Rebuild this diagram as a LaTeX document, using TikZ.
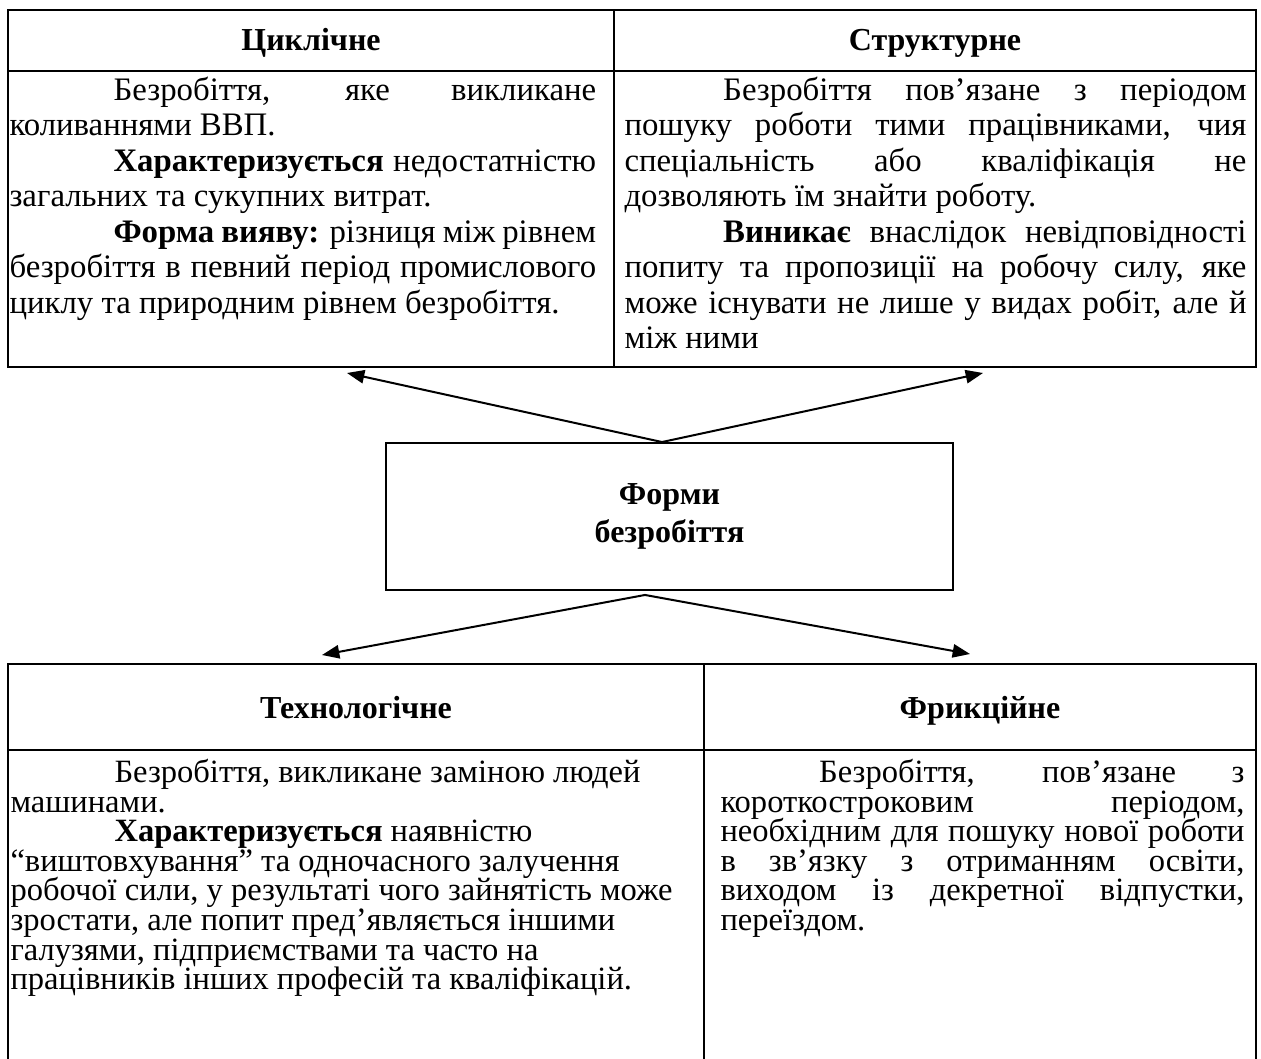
\documentclass[tikz,border=0pt]{standalone}
\usepackage{fontspec}
\setmainfont{Liberation Serif}
\usetikzlibrary{arrows.meta,calc}
\newlength{\indL}\setlength{\indL}{39pt}
\newlength{\indR}\setlength{\indR}{37pt}
\newcommand{\jl}[2]{\makebox[#1][s]{\spaceskip=0pt\xspaceskip=0pt\relax #2}}
\newcommand{\fst}{\spaceskip=0pt\xspaceskip=0pt\relax\rule{0pt}{10pt}}
\newcommand{\tightlines}{\setlength{\lineskiplimit}{-20pt}\setlength{\lineskip}{0pt}}
\begin{document}
\begin{tikzpicture}[x=0.375pt,y=-0.375pt,
  frame/.style={line width=0.75pt},
  head/.style={font=\bfseries\fontsize{12}{14}\selectfont, inner sep=0pt, anchor=base},
  bodyA/.style={anchor=north west, inner sep=0pt, align=flush left, font=\fontsize{12.3}{13.31}\selectfont\tightlines},
  bodyB/.style={anchor=north west, inner sep=0pt, align=flush left, font=\fontsize{12.2}{11.1}\selectfont\tightlines},
  conn/.style={line width=0.75pt, -{Triangle[length=6.5pt,width=5pt]}}]
\useasboundingbox (0,0) rectangle (1261,1059);

% top table
\draw[frame] (8,10) rectangle (1256,367);
\draw[frame] (8,71) -- (1256,71);
\draw[frame] (614,10) -- (614,367);
\node[head] (cyc) at (311,51) {Циклічне};
\node[head] (str) at (935,51) {Структурне};

\node[bodyA, text width=220pt] (cycbody) at (9,73.3) {\fst\jl{220pt}{\hspace*{\indL}Безробіття, яке викликане}\\
коливаннями ВВП.\\
\jl{220pt}{\hspace*{\indL}\textbf{Характеризується} недостатністю}\\
загальних та сукупних витрат.\\
\jl{220pt}{\hspace*{\indL}\textbf{Форма вияву:} різниця між рівнем}\\
\jl{220pt}{безробіття в певний період промислового}\\
циклу та природним рівнем безробіття.};

\node[bodyA, text width=233.25pt] (strbody) at (624,73.3) {\fst\jl{233.25pt}{\hspace*{\indR}Безробіття пов’язане з періодом}\\
\jl{233.25pt}{пошуку роботи тими працівниками, чия}\\
\jl{233.25pt}{спеціальність або кваліфікація не}\\
дозволяють їм знайти роботу.\\
\jl{233.25pt}{\hspace*{\indR}\textbf{Виникає} внаслідок невідповідності}\\
\jl{233.25pt}{попиту та пропозиції на робочу силу, яке}\\
\jl{233.25pt}{може існувати не лише у видах робіт, але й}\\
між ними};

% central box
\node[draw, line width=0.75pt, minimum width=212.6pt, minimum height=55.1pt, inner sep=0pt,
  align=center, font=\bfseries\fontsize{12}{14.25}\selectfont] (forms) at (669.5,516.5) {Форми\\безробіття};

\coordinate (tipTL) at (347,373);
\coordinate (tipTR) at (983,373);
\coordinate (tipBL) at (322,655);
\coordinate (tipBR) at (970,654);
\coordinate (apexT) at ($(forms.north)+(-7.5,0)$);
\coordinate (apexB) at ($(forms.south)+(-24.5,4)$);
\draw[conn] (apexT) -- (tipTL);
\draw[conn] (apexT) -- (tipTR);
\draw[conn] (apexB) -- (tipBL);
\draw[conn] (apexB) -- (tipBR);

% bottom table
\draw[frame] (8,1059) -- (8,664) -- (1256,664) -- (1256,1059);
\draw[frame] (8,750) -- (1256,750);
\draw[frame] (704,664) -- (704,1059);
\node[head] (tech) at (356,718) {Технологічне};
\node[head] (fric) at (980,718) {Фрикційне};

\node[bodyB, text width=256pt] (techbody) at (10,755.3) {\fst\hspace*{\indL}Безробіття, викликане заміною людей\\
машинами.\\
\hspace*{\indL}\textbf{Характеризується} наявністю\\
“виштовхування” та одночасного залучення\\
робочої сили, у результаті чого зайнятість може\\
зростати, але попит пред’являється іншими\\
галузями, підприємствами та часто на\\
працівників інших професій та кваліфікацій.};

\node[bodyB, text width=196.5pt] (fricbody) at (720,755.3) {\fst\jl{196.5pt}{\hspace*{\indR}Безробіття, пов’язане з}\\
\jl{196.5pt}{короткостроковим періодом,}\\
\jl{196.5pt}{необхідним для пошуку нової роботи}\\
\jl{196.5pt}{в зв’язку з отриманням освіти,}\\
\jl{196.5pt}{виходом із декретної відпустки,}\\
переїздом.};
\end{tikzpicture}
\end{document}
